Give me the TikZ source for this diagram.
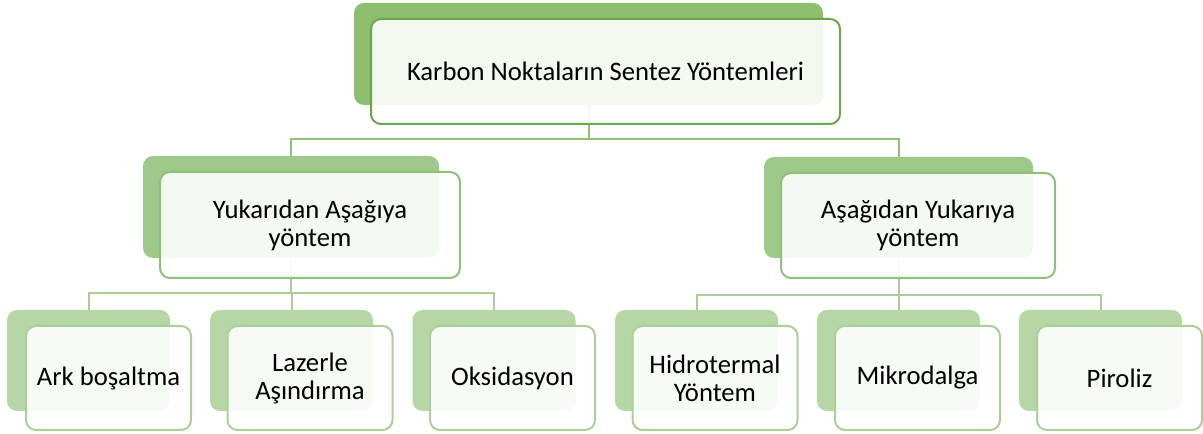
\documentclass[tikz,border=0pt]{standalone}
\usepackage{fontspec}
\setmainfont{Carlito}
\usepackage{xcolor}
\definecolor{bkA}{HTML}{8DBF6E}
\definecolor{bkB}{HTML}{9EC98A}
\definecolor{bkC}{HTML}{B6D7A5}
\definecolor{edA}{HTML}{6BA64B}
\definecolor{edB}{HTML}{8FC077}
\definecolor{edC}{HTML}{AACF98}
\definecolor{lnA}{HTML}{8FC076}
\definecolor{lnB}{HTML}{A9CF94}

\begin{document}
\begin{tikzpicture}[x=0.75pt,y=-0.75pt,
 font=\fontsize{20}{21}\selectfont,
 bk/.style={rounded corners=7.5pt,inner sep=0pt,outer sep=0pt},
 fr/.style={draw,line width=1.5pt,fill=white,fill opacity=0.9,text opacity=1,rounded corners=7.5pt,align=center,inner sep=0pt,outer sep=0pt},
 bkA/.style={bk,fill=bkA,minimum width=351.75pt,minimum height=76.5pt},
 frA/.style={fr,draw=edA,minimum width=351.75pt,minimum height=78.75pt},
 bkL/.style={bk,fill=bkB,minimum width=222pt,minimum height=76.5pt},
 frL/.style={fr,draw=edB,minimum width=225pt,minimum height=79.5pt},
 bkR/.style={bk,fill=bkB,minimum width=201.75pt,minimum height=75.75pt},
 frR/.style={fr,draw=edB,minimum width=205.5pt,minimum height=78.75pt},
 bkC/.style={bk,fill=bkC,minimum width=122.25pt,minimum height=75.75pt},
 frC/.style={fr,draw=edC,minimum width=123.75pt,minimum height=78pt},
 cnA/.style={draw=lnA,line width=1.5pt},
 cnB/.style={draw=lnB,line width=1.5pt}]
\useasboundingbox (0,0) rectangle (1203,434);
% back boxes
\node[bkA] (top) at (588.5,54) {};
\node[bkL] (midL) at (291,207) {};
\node[bkR] (midR) at (898.5,207.5) {};
\node[bkC] (l1) at (88.5,360.5) {};
\node[bkC] (l2) at (291.5,360.5) {};
\node[bkC] (l3) at (494,360.5) {};
\node[bkC] (r1) at (696.5,360.5) {};
\node[bkC] (r2) at (898.5,360.5) {};
\node[bkC] (r3) at (1100.5,360.5) {};
% connectors
\coordinate (jA) at (588.5,139);
\draw[cnA] (top.south) -- (jA) -| (midL.north);
\draw[cnA] (jA) -| (midR.north);
\coordinate (jL) at (291,293);
\draw[cnB] (midL.south) -- (jL) -| (l1.north);
\draw[cnB] (jL) -| (l2.north);
\draw[cnB] (jL) -| (l3.north);
\coordinate (jR) at (898.5,295);
\draw[cnB] (midR.south) -- (jR) -| (r1.north);
\draw[cnB] (jR) -| (r2.north);
\draw[cnB] (jR) -| (r3.north);
% front boxes
\node[frA] (topF) at (605.5,71.5) {Karbon Noktaların Sentez Yöntemleri};
\node[frL] (midLF) at (310,225) {Yukarıdan Aşağıya\\ yöntem};
\node[frR] (midRF) at (918,225.5) {Aşağıdan Yukarıya\\ yöntem};
\node[frC] (l1F) at (108.5,378) {Ark boşaltma};
\node[frC] (l2F) at (310,378) {Lazerle\\ Aşındırma};
\node[frC] (l3F) at (512.5,378) {Oksidasyon};
\node[frC] (r1F) at (715,378) {Hidrotermal\\ Yöntem};
\node[frC] (r2F) at (917.5,378) {Mikrodalga};
\node[frC] (r3F) at (1119.5,378) {Piroliz};
\end{tikzpicture}
\end{document}
